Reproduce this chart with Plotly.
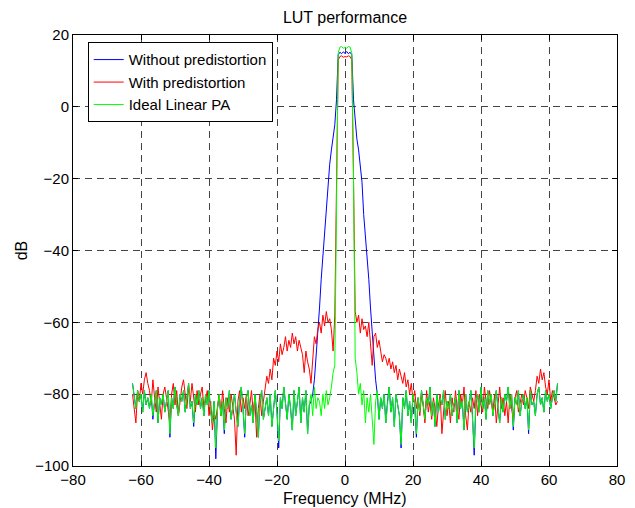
import numpy as np
import plotly.graph_objects as go

# Frequency grid (MHz), 0.5 MHz spacing from -62.5 to 62.5
freq = np.arange(-62.5, 62.5 + 0.25, 0.5)

without_pd = [
    -77, -81, -84, -79, -82, -80, -85, -79, -83, -81,
    -84, -80, -87, -82, -79, -88, -81, -83, -80, -85,
    -82, -79, -92, -81, -84, -78, -83, -86, -80, -82,
    -79, -85, -81, -77, -84, -82, -89, -80, -83, -79,
    -84, -81, -86, -80, -83, -79, -85, -88, -82, -98,
    -84, -80, -86, -82, -91, -81, -84, -79, -87, -83,
    -80, -85, -89, -82, -78, -84, -92, -81, -79, -86,
    -83, -88, -80, -85, -92, -82, -79, -87, -84, -81,
    -86, -80, -89, -83, -79, -85, -95, -81, -84, -78,
    -82, -87, -80, -84, -90, -79, -86, -82, -78, -88,
    -81, -85, -79, -91, -83, -82, -80, -76, -70, -63,
    -56, -48, -41, -36, -30, -21, -16, -12, -9, -5,
    2, 14.5, 15.2, 14.8, 15.3, 14.9, 15.4, 14.8, 15.2, 14.5,
    2, -5, -9, -12, -16, -21, -30, -36, -41, -48,
    -56, -63, -70, -76, -80, -87, -81, -84, -80, -88,
    -82, -78, -85, -81, -89, -80, -83, -86, -95, -81,
    -84, -79, -86, -82, -88, -80, -83, -92, -81, -85,
    -79, -84, -87, -81, -83, -78, -86, -82, -89, -80,
    -85, -81, -83, -79, -87, -82, -84, -80, -86, -83,
    -81, -88, -79, -84, -82, -90, -80, -85, -83, -79,
    -86, -97, -82, -80, -85, -78, -84, -81, -87, -79,
    -83, -80, -86, -82, -79, -84, -88, -81, -85, -80,
    -82, -78, -84, -80, -90, -81, -83, -79, -86, -82,
    -80, -84, -81, -91, -79, -83, -82, -86, -80, -78,
    -83, -81, -85, -79, -82, -80, -84, -81, -79, -82,
    -77,
]

with_pd = [
    -80, -85, -88, -79, -82, -77, -80, -76, -74, -77,
    -79, -83, -76, -81, -85, -78, -82, -87, -80, -78,
    -81, -84, -88, -80, -77, -83, -79, -86, -82, -78,
    -76, -80, -84, -78, -82, -77, -81, -85, -79, -83,
    -80, -78, -84, -81, -79, -86, -82, -90, -85, -87,
    -83, -80, -86, -79, -84, -88, -81, -85, -80, -84,
    -87, -97, -82, -79, -85, -81, -84, -80, -86, -83,
    -79, -85, -81, -92, -84, -80, -86, -82, -78, -75,
    -77, -73, -76, -70, -72, -68, -71, -66, -69, -67,
    -64, -68, -65, -67, -63, -66, -64, -68, -65, -67,
    -69, -74, -68, -71, -73, -77, -70, -64, -66, -62,
    -60, -63, -58, -61, -57, -60, -59, -62, -68, -58,
    -22, 13, 14, 14.2, 13.8, 14, 13.9, 14.2, 14, 13,
    -20, -57, -60, -58, -63, -59, -62, -61, -64, -60,
    -66, -72, -64, -63, -67, -65, -68, -71, -69, -70,
    -72, -70, -73, -71, -74, -72, -76, -73, -75, -77,
    -74, -78, -76, -80, -77, -82, -79, -84, -81, -86,
    -80, -83, -88, -79, -85, -82, -87, -81, -84, -89,
    -83, -80, -91, -84, -79, -86, -82, -88, -81, -85,
    -79, -84, -87, -80, -83, -78, -86, -90, -82, -85,
    -81, -84, -79, -86, -80, -83, -85, -78, -82, -84,
    -79, -82, -85, -80, -88, -83, -78, -84, -81, -86,
    -82, -88, -80, -84, -87, -81, -79, -85, -82, -80,
    -83, -79, -81, -84, -78, -80, -82, -79, -75, -77,
    -73, -76, -74, -78, -80, -76, -82, -79, -81, -83,
    -82,
]

ideal_pa = [
    -77, -81, -84, -79, -82, -80, -85, -79, -83, -81,
    -84, -80, -86, -82, -79, -88, -81, -83, -80, -85,
    -82, -79, -91, -81, -84, -78, -83, -86, -80, -82,
    -79, -85, -81, -77, -84, -82, -88, -80, -83, -79,
    -84, -81, -86, -80, -83, -79, -85, -88, -82, -95,
    -84, -80, -86, -82, -90, -81, -84, -79, -87, -83,
    -80, -85, -89, -82, -78, -84, -91, -81, -79, -86,
    -83, -88, -80, -85, -92, -82, -79, -87, -84, -81,
    -86, -80, -89, -83, -79, -85, -93, -81, -84, -78,
    -82, -87, -80, -84, -90, -79, -86, -82, -78, -88,
    -81, -85, -79, -91, -83, -80, -86, -78, -84, -81,
    -82, -86, -80, -84, -79, -83, -81, -78, -74, -72,
    -25, 15, 16.6, 16.8, 16.3, 16.5, 16.3, 16.8, 16.6, 15,
    -20, -70, -74, -80, -77, -83, -79, -88, -81, -85,
    -80, -86, -94, -82, -79, -87, -81, -84, -80, -88,
    -82, -78, -85, -81, -89, -80, -83, -86, -94, -81,
    -84, -79, -86, -82, -88, -80, -83, -91, -81, -85,
    -79, -84, -87, -81, -83, -78, -86, -82, -89, -80,
    -85, -81, -83, -79, -87, -82, -84, -80, -86, -83,
    -81, -88, -79, -84, -82, -90, -80, -85, -83, -79,
    -86, -95, -82, -80, -85, -78, -84, -81, -87, -79,
    -83, -80, -86, -82, -79, -84, -88, -81, -85, -80,
    -82, -78, -84, -80, -89, -81, -83, -79, -86, -82,
    -80, -84, -81, -90, -79, -83, -82, -86, -80, -78,
    -83, -81, -85, -79, -82, -80, -84, -81, -79, -82,
    -77,
]

series_names = ["Without predistortion", "With predistortion", "Ideal Linear PA"]
series_colors = ["#0000ff", "#ff0000", "#00ff00"]
x_ticks = [-80, -60, -40, -20, 0, 20, 40, 60, 80]
y_ticks = [-100, -80, -60, -40, -20, 0, 20]

FONT = "Liberation Sans, Arial, sans-serif"

fig = go.Figure()
for name, vals, col in zip(series_names, [without_pd, with_pd, ideal_pa], series_colors):
    fig.add_trace(go.Scatter(x=freq, y=vals, mode="lines", name=name,
                             line=dict(color=col, width=1)))

axis_common = dict(
    showline=True, linecolor="black", linewidth=1, mirror="ticks",
    ticks="inside", ticklen=5, tickcolor="black", tickwidth=1,
    showgrid=True, gridcolor="#444444", gridwidth=1, griddash="7px,5px",
    zeroline=False, automargin=False,
    tickfont=dict(family=FONT, size=15, color="black"),
)

# The page body adds an 8px offset, so the figure is sized 627x500
fig.update_layout(
    width=627, height=500,
    margin=dict(l=65, r=18, t=27, b=42, autoexpand=False),
    paper_bgcolor="white", plot_bgcolor="white",
    font=dict(family=FONT, size=15, color="black"),
    title=dict(text="LUT performance", x=0.5, xref="paper", xanchor="center",
               y=1 - 9 / 500, yanchor="middle", automargin=False,
               font=dict(family=FONT, size=16, color="black")),
    showlegend=True,
    legend=dict(x=0.027, y=0.983, xanchor="left", yanchor="top",
                bgcolor="white", bordercolor="black", borderwidth=1,
                font=dict(family=FONT, size=15, color="black"),
                tracegroupgap=0),
    annotations=[
        dict(text="Frequency (MHz)", xref="paper", yref="paper",
             x=0.5, y=-0.075, xanchor="center", yanchor="middle",
             showarrow=False, font=dict(family=FONT, size=16, color="black")),
        dict(text="dB", xref="paper", yref="paper", textangle=-90,
             x=-0.094, y=0.5, xanchor="center", yanchor="middle",
             showarrow=False, font=dict(family=FONT, size=16, color="black")),
    ],
)
fig.update_xaxes(range=[-80, 80], tickvals=x_ticks, **axis_common)
fig.update_yaxes(range=[-100, 20], tickvals=y_ticks, **axis_common)

fig.write_html("out.html")
